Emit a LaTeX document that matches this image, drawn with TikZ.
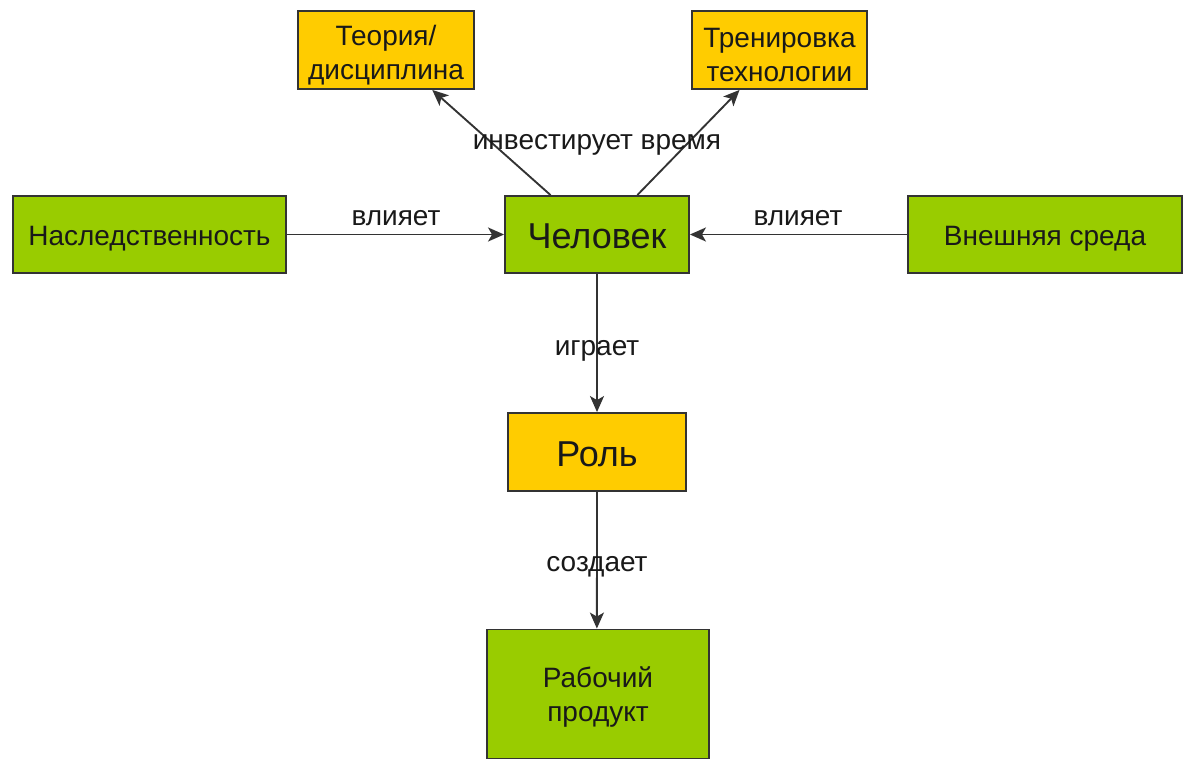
\documentclass[tikz,border=0pt]{standalone}
\usepackage{fontspec}
\setmainfont{Liberation Sans}
\usetikzlibrary{arrows.meta,calc}
\definecolor{boxgreen}{HTML}{99CC00}
\definecolor{boxyellow}{HTML}{FFCC00}
\definecolor{edgegray}{HTML}{333333}
\tikzset{
  box/.style={draw=edgegray, line width=1.4pt, inner sep=0pt},
  gbox/.style={box, fill=boxgreen},
  ybox/.style={box, fill=boxyellow},
  txt/.style={inner sep=0pt, align=center, text=black!90, font=\fontsize{21}{25.5}\selectfont},
  bigtxt/.style={txt, font=\fontsize{27}{32}\selectfont},
  conn/.style={draw=edgegray, line width=1.4pt, -{Stealth[length=12pt,width=10.5pt,inset=3pt]}},
  lbl/.style={inner sep=0pt, text=black!90, font=\fontsize{21}{25}\selectfont}
}
\begin{document}
\begin{tikzpicture}[x=0.75pt,y=-0.75pt]
\useasboundingbox (0,0) rectangle (1195,771);
\fill[white] (0,0) rectangle (1195,771);

\node[ybox, minimum width=132pt, minimum height=58.5pt] (theory) at (386,50) {};
\node[ybox, minimum width=131.25pt, minimum height=58.5pt] (train) at (779.5,50) {};
\node[gbox, minimum width=204.75pt, minimum height=57.75pt] (hered) at (149.5,234.5) {};
\node[gbox, minimum width=138pt, minimum height=57.75pt] (human) at (597,234.5) {};
\node[gbox, minimum width=205.5pt, minimum height=57.75pt] (env) at (1045,234.5) {};
\node[ybox, minimum width=133.5pt, minimum height=58.5pt] (role) at (597,452) {};
\node[gbox, minimum width=166.5pt, minimum height=96.75pt] (product) at (598,694) {};

\node[txt] (ttheory) at ([yshift=-3.5pt]theory.center) {Теория/\\дисциплина};
\node[txt] (ttrain) at ([yshift=-3.5pt]train.center) {Тренировка\\технологии};
\node[txt] (thered) at ([yshift=-3pt]hered.center) {Наследственность};
\node[bigtxt] (thuman) at ([yshift=-1.5pt]human.center) {Человек};
\node[txt] (tenv) at ([yshift=-3pt]env.center) {Внешняя среда};
\node[bigtxt] (trole) at ([yshift=-1.5pt]role.center) {Роль};
\node[txt] (tproduct) at ([yshift=-2pt]product.center) {Рабочий\\продукт};

\draw[conn] ($(human.north west)!0.25!(human.north east)$) -- ($(theory.south west)!0.76!(theory.south east)$);
\draw[conn] ($(human.north west)!0.717!(human.north east)$) -- ($(train.south west)!0.274!(train.south east)$);
\draw[conn] (hered.east) -- (human.west);
\draw[conn] (env.west) -- (human.east);
\draw[conn] (human.south) -- (role.north);
\draw[conn] (role.south) -- ($(product.north west)!0.495!(product.north east)$);

\node[lbl] (linvest) at (597,145) {инвестирует время};
\node[lbl] (lleft) at (396,218) {влияет};
\node[lbl] (lright) at (798,218) {влияет};
\node[lbl] (lplay) at (597,351) {играет};
\node[lbl] (lcreate) at (597,567) {создает};
\end{tikzpicture}
\end{document}
